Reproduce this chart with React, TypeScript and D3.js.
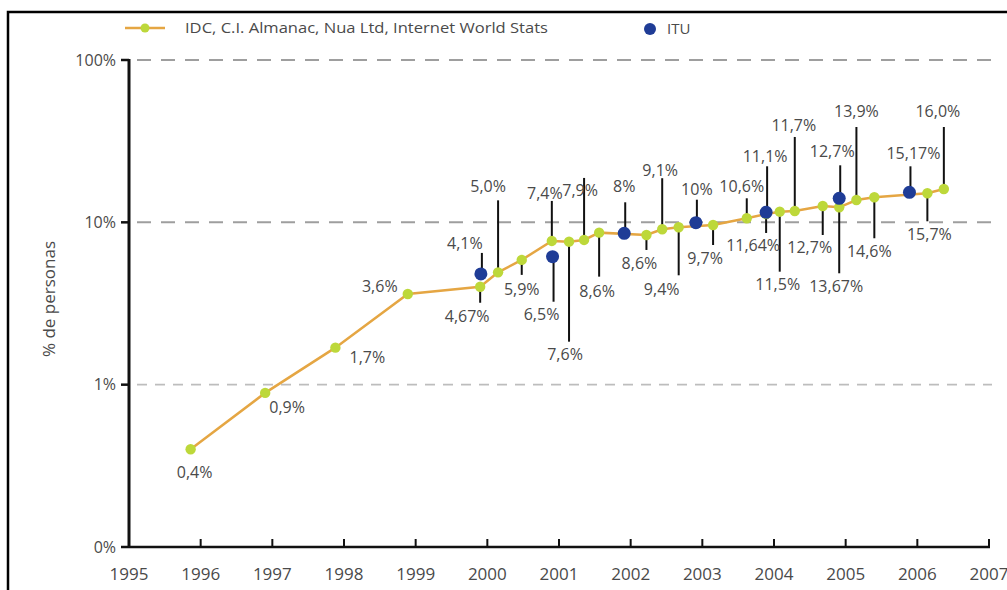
import React from "react";
import * as d3 from "d3";

// ---- data ----
const greenYears = [1995.86, 1996.9, 1997.88, 1998.89, 1999.9, 2000.15, 2000.48, 2000.9, 2001.14, 2001.35, 2001.56, 2002.22, 2002.44, 2002.67, 2003.15, 2003.62, 2003.89, 2004.08, 2004.29, 2004.68, 2004.91, 2005.15, 2005.4, 2006.14, 2006.37];
const greenValues = [0.4, 0.89, 1.69, 3.62, 4.01, 4.92, 5.87, 7.68, 7.6, 7.79, 8.64, 8.36, 9.07, 9.32, 9.63, 10.59, 11.26, 11.63, 11.75, 12.61, 12.38, 13.73, 14.27, 15.1, 16.05];
const greenLabels = ["0,4%", "0,9%", "1,7%", "3,6%", "4,67%", "5,0%", "5,9%", "7,4%", "7,6%", "7,9%", "8,6%", "8,6%", "9,1%", "9,4%", "9,7%", "10,6%", "11,64%", "11,5%", "11,7%", "12,7%", "13,67%", "13,9%", "14,6%", "15,7%", "16,0%"];

const ituYears = [1999.91, 2000.91, 2001.91, 2002.91, 2003.89, 2004.91, 2005.89];
const ituValues = [4.81, 6.14, 8.56, 9.95, 11.53, 14.06, 15.31];
const ituLabels = ["4,1%", "6,5%", "8%", "10%", "11,1%", "12,7%", "15,17%"];

const yTickValues = [0.1, 1, 10, 100];
const yTickLabels = ["0%", "1%", "10%", "100%"];
const xTickYears = [1995, 1996, 1997, 1998, 1999, 2000, 2001, 2002, 2003, 2004, 2005, 2006, 2007];

const legendGreen = "IDC, C.I. Almanac, Nua Ltd, Internet World Stats";
const legendBlue = "ITU";
const yTitle = "% de personas";

// ---- label layout (pixels): leader length, label dx, label dy ----
const greenLeader = [0, 0, 0, 0, 16, -72, 15, -40, 100, -62, 44, 15, -51, 48, 20, -20, 19, 60, -74, 29, 66, -73, 41, 28, -62];
const greenLabelDX = [4, 22, 32, -28, -13, -10, 0, -7, -4, -4, -2, -7, -2, -17, -8, -5, -13, -2, -1, -13, -3, 0, -5, 2, -6];
const greenLabelDY = [23, 15, 10, -8, 30, -86, 30, -48, 113, -50, 59, 28, -59, 62, 33, -32, 31, 73, -86, 41, 79, -89, 54, 41, -78];
const ituLeader = [-21, 45, -31, -23, -46, -33, -26];
const ituLabelDX = [-16, -11, 0, 1, -1, -7, 4];
const ituLabelDY = [-31, 58, -47, -33, -56, -47, -39];

const W = 1007;
const H = 590;
const left = 129;
const right = 989;
const top = 60;
const bottom = 547;

const FONT = "'Open Sans', 'Noto Sans', sans-serif";
const TXT = "#4a4a4a";
const ORANGE = "#E5A643";
const GREEN = "#BDD83A";
const BLUE = "#1F3C96";

export default function App() {
  const x = d3.scaleLinear().domain([1995, 2007]).range([left, right]);
  const y = d3.scaleLog().domain([0.1, 100]).range([bottom, top]);

  const greenPts: [number, number][] = greenYears.map((yr, i) => [x(yr), y(greenValues[i])]);
  const line = d3.line<[number, number]>().x((d) => d[0]).y((d) => d[1]);

  return (
    <div style={{ position: "absolute", left: 0, top: 0 }}>
      <svg width={W} height={H} style={{ display: "block", background: "#fff" }}>
        {/* frame */}
        <path d={`M8,${H} L8,12 L${W},12`} fill="none" stroke="#000" strokeWidth={2.5} />

        {/* legend */}
        <line x1={125} x2={165} y1={28} y2={28} stroke={ORANGE} strokeWidth={2.5} />
        <circle cx={145} cy={28} r={4.5} fill={GREEN} />
        <text x={185} y={33} fontFamily={FONT} fontSize={15} fill={TXT} textLength={363} lengthAdjust="spacingAndGlyphs">
          {legendGreen}
        </text>
        <circle cx={650} cy={29} r={6} fill={BLUE} />
        <text x={667} y={34} fontFamily={FONT} fontSize={15} fill={TXT}>
          {legendBlue}
        </text>

        {/* grid lines */}
        {yTickValues.slice(1).map((v, i) => (
          <line
            key={"g" + i}
            x1={137}
            x2={992}
            y1={y(v)}
            y2={y(v)}
            stroke={v === 1 ? "#bdbdbd" : "#9e9e9e"}
            strokeWidth={v === 1 ? 1.6 : 2}
            strokeDasharray={v === 1 ? "10 8" : "14 10"}
          />
        ))}

        {/* y axis */}
        <line x1={left} x2={left} y1={top - 1} y2={bottom + 1} stroke="#111" strokeWidth={3} />
        {yTickValues.map((v, i) => (
          <g key={"yt" + i}>
            <line x1={121} x2={left} y1={y(v)} y2={y(v)} stroke="#111" strokeWidth={2.5} />
            <text x={116} y={y(v)} dy="0.35em" textAnchor="end" fontFamily={FONT} fontSize={16} fill={TXT}>
              {yTickLabels[i]}
            </text>
          </g>
        ))}
        <text
          transform={`translate(49,299) rotate(-90)`}
          textAnchor="middle"
          dy="0.35em"
          fontFamily={FONT}
          fontSize={17}
          fill={TXT}
        >
          {yTitle}
        </text>

        {/* x axis */}
        <line x1={left} x2={right + 1} y1={bottom} y2={bottom} stroke="#111" strokeWidth={2.5} />
        {xTickYears.map((yr) => (
          <g key={"xt" + yr}>
            {yr > 1995 && <line x1={x(yr)} x2={x(yr)} y1={bottom} y2={bottom - 8} stroke="#111" strokeWidth={2} />}
            <text x={x(yr)} y={580} textAnchor="middle" fontFamily={FONT} fontSize={17} fill={TXT}>
              {yr}
            </text>
          </g>
        ))}

        {/* leader lines */}
        {greenPts.map((p, i) =>
          greenLeader[i] !== 0 ? (
            <line key={"gl" + i} x1={p[0]} x2={p[0]} y1={p[1]} y2={p[1] + greenLeader[i]} stroke="#111" strokeWidth={2} />
          ) : null
        )}
        {ituYears.map((yr, i) => (
          <line
            key={"il" + i}
            x1={x(yr) + 1}
            x2={x(yr) + 1}
            y1={y(ituValues[i])}
            y2={y(ituValues[i]) + ituLeader[i]}
            stroke="#111"
            strokeWidth={2}
          />
        ))}

        {/* series line */}
        <path d={line(greenPts) || ""} fill="none" stroke={ORANGE} strokeWidth={2.5} />

        {/* points */}
        {greenPts.map((p, i) => (
          <circle key={"gp" + i} cx={p[0]} cy={p[1]} r={5.2} fill={GREEN} />
        ))}
        {ituYears.map((yr, i) => (
          <circle key={"ip" + i} cx={x(yr)} cy={y(ituValues[i])} r={6.5} fill={BLUE} />
        ))}

        {/* labels */}
        {greenPts.map((p, i) => (
          <text
            key={"gt" + i}
            x={p[0] + greenLabelDX[i]}
            y={p[1] + greenLabelDY[i]}
            dy="0.35em"
            textAnchor="middle"
            fontFamily={FONT}
            fontSize={16}
            fill={TXT}
          >
            {greenLabels[i]}
          </text>
        ))}
        {ituYears.map((yr, i) => (
          <text
            key={"it" + i}
            x={x(yr) + ituLabelDX[i]}
            y={y(ituValues[i]) + ituLabelDY[i]}
            dy="0.35em"
            textAnchor="middle"
            fontFamily={FONT}
            fontSize={16}
            fill={TXT}
          >
            {ituLabels[i]}
          </text>
        ))}
      </svg>
    </div>
  );
}
